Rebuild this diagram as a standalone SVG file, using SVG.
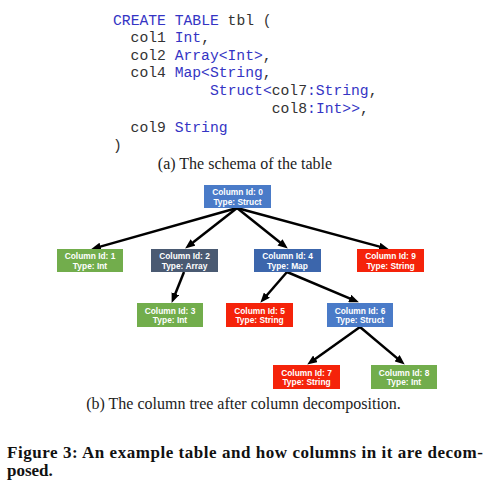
<svg xmlns="http://www.w3.org/2000/svg" width="486" height="504" viewBox="0 0 486 504">
<style>
.code{font-family:"Liberation Mono","Courier New",monospace;font-size:14.7px;fill:#333333}
.kw{fill:#3434c4}
.cap{font-family:"Liberation Serif","Times New Roman",serif;font-size:16px;fill:#222222}
.fig{font-family:"Liberation Serif","Times New Roman",serif;font-size:17px;font-weight:bold;fill:#111111}
.nt{font-family:"Liberation Sans",Arial,sans-serif;font-size:8.4px;font-weight:bold;fill:#ffffff;text-anchor:middle}
.edge{stroke:#000000;stroke-width:2.5;fill:none;marker-end:url(#ah)}
.green{fill:#72ad4c}
.slate{fill:#4a5a72}
.blue{fill:#4a7bc8}
.dblue{fill:#3c66ac}
.red{fill:#f5230a}
</style>
<defs>
<marker id="ah" markerUnits="userSpaceOnUse" markerWidth="10" markerHeight="8" refX="5" refY="4" orient="auto">
<path d="M0,0 L10,4 L0,8 z" fill="#000000"/>
</marker>
</defs>
<rect width="486" height="504" fill="#ffffff"/>
<g id="schema">
<text class="code" x="113" y="25"><tspan class="kw">CREATE TABLE</tspan> tbl (</text>
<text class="code" x="130.6" y="42">col1 <tspan class="kw">Int</tspan>,</text>
<text class="code" x="130.6" y="59.5">col2 <tspan class="kw">Array&lt;Int&gt;</tspan>,</text>
<text class="code" x="130.6" y="77">col4 <tspan class="kw">Map&lt;String</tspan>,</text>
<text class="code" x="210" y="95"><tspan class="kw">Struct&lt;</tspan>col7<tspan class="kw">:String</tspan>,</text>
<text class="code" x="271.8" y="113">col8<tspan class="kw">:Int&gt;&gt;</tspan>,</text>
<text class="code" x="130.6" y="131.5">col9 <tspan class="kw">String</tspan></text>
<text class="code" x="113" y="150">)</text>
<text class="cap" x="245" y="169" text-anchor="middle">(a) The schema of the table</text>
</g>
<g id="connectors">
<line class="edge" x1="237" y1="208" x2="95.8" y2="247.9"/>
<line class="edge" x1="237" y1="208" x2="189.1" y2="245.5"/>
<line class="edge" x1="237" y1="208" x2="283.9" y2="245.5"/>
<line class="edge" x1="237" y1="208" x2="384.1" y2="247.9"/>
<line class="edge" x1="184" y1="272" x2="173.5" y2="298.3"/>
<line class="edge" x1="287" y1="272" x2="263.6" y2="299"/>
<line class="edge" x1="287" y1="272" x2="354.3" y2="300.4"/>
<line class="edge" x1="360" y1="327" x2="311.3" y2="361.7"/>
<line class="edge" x1="360" y1="327" x2="400.9" y2="361.4"/>
</g>
<g id="col0"><rect class="blue" x="204" y="185" width="67" height="23"/><text class="nt" x="237.5" y="195">Column Id: 0</text><text class="nt" x="237.5" y="204.5">Type: Struct</text></g>
<g id="col1"><rect class="green" x="57" y="249" width="66" height="23"/><text class="nt" x="90" y="259">Column Id: 1</text><text class="nt" x="90" y="268.5">Type: Int</text></g>
<g id="col2"><rect class="slate" x="151" y="249" width="67" height="23"/><text class="nt" x="184.5" y="259">Column Id: 2</text><text class="nt" x="184.5" y="268.5">Type: Array</text></g>
<g id="col4"><rect class="dblue" x="254" y="249" width="67" height="23"/><text class="nt" x="287.5" y="259">Column Id: 4</text><text class="nt" x="287.5" y="268.5">Type: Map</text></g>
<g id="col9"><rect class="red" x="357" y="249" width="67" height="23"/><text class="nt" x="390.5" y="259">Column Id: 9</text><text class="nt" x="390.5" y="268.5">Type: String</text></g>
<g id="col3"><rect class="green" x="137" y="303" width="66" height="24"/><text class="nt" x="170" y="313.5">Column Id: 3</text><text class="nt" x="170" y="323">Type: Int</text></g>
<g id="col5"><rect class="red" x="226" y="303" width="67" height="24"/><text class="nt" x="259.5" y="313.5">Column Id: 5</text><text class="nt" x="259.5" y="323">Type: String</text></g>
<g id="col6"><rect class="blue" x="327" y="303" width="66" height="24"/><text class="nt" x="360" y="313.5">Column Id: 6</text><text class="nt" x="360" y="323">Type: Struct</text></g>
<g id="col7"><rect class="red" x="273" y="365" width="67" height="24"/><text class="nt" x="306.5" y="375.5">Column Id: 7</text><text class="nt" x="306.5" y="385">Type: String</text></g>
<g id="col8"><rect class="green" x="371" y="365" width="66" height="24"/><text class="nt" x="404" y="375.5">Column Id: 8</text><text class="nt" x="404" y="385">Type: Int</text></g>
<g id="captions">
<text class="cap" x="243.5" y="409" text-anchor="middle" font-size="15.7">(b) The column tree after column decomposition.</text>
<text class="fig" x="7" y="458" textLength="476" lengthAdjust="spacing">Figure 3: An example table and how columns in it are decom-</text>
<text class="fig" x="7" y="476">posed.</text>
</g>
</svg>
